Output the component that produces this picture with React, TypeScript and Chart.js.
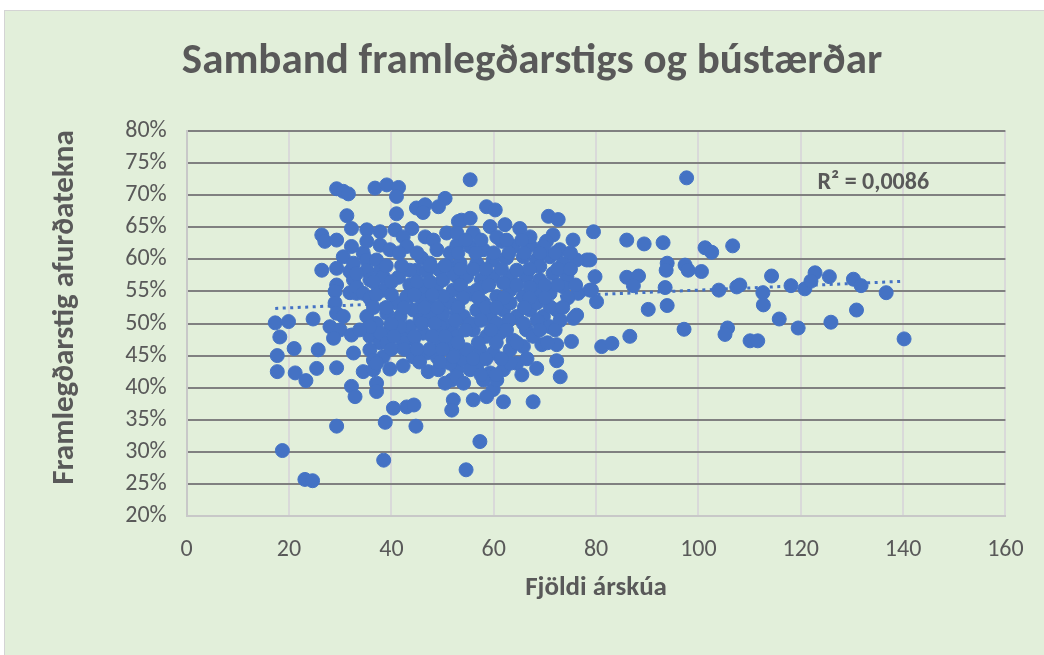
import React, { useEffect, useRef } from "react";
import { Chart, registerables } from "chart.js";

Chart.register(...registerables);

// Fjöldi árskúa (x) og framlegðarstig afurðatekna í % (y)
const cowCounts: number[] = [
  17.3, 18.2, 17.7, 17.7, 19.9, 21.0, 21.2, 23.3, 18.7, 23.1, 24.6, 24.7, 25.7, 25.4, 29.3, 29.3,
  26.4, 27.0, 29.3, 26.4, 29.3, 30.6, 31.6, 31.3, 32.2, 32.2, 30.6, 29.3, 29.3, 29.0, 31.9, 33.2,
  29.0, 29.3, 30.6, 28.0, 30.0, 28.7, 32.2, 32.6, 34.5, 32.2, 32.9, 31.9, 32.6, 34.5, 35.2, 35.2,
  35.2, 35.2, 32.6, 33.2, 35.8, 33.2, 34.5, 35.8, 36.8, 39.1, 41.4, 41.0, 41.0, 44.9, 46.6, 46.2,
  50.5, 49.2, 53.1, 37.8, 40.7, 44.0, 42.3, 46.6, 48.2, 50.8, 37.8, 39.7, 37.1, 45.9, 47.5, 37.8,
  41.4, 44.9, 46.9, 49.5, 51.5, 38.4, 38.4, 43.6, 46.2, 48.9, 52.1, 35.2, 37.1, 39.1, 41.0, 43.0,
  44.3, 46.9, 48.9, 51.5, 35.8, 37.8, 35.8, 38.4, 36.5, 42.3, 44.3, 46.2, 42.3, 39.7, 49.5, 47.2,
  49.2, 51.8, 51.8, 52.1, 51.8, 43.6, 51.8, 50.1, 52.8, 52.8, 52.8, 50.5, 36.5, 37.1, 37.1, 39.7,
  42.3, 40.4, 43.0, 44.4, 38.8, 44.8, 38.5, 41.7, 45.6, 47.5, 49.5, 41.7, 37.8, 35.8, 33.8, 39.1,
  37.1, 44.3, 46.9, 48.9, 51.5, 52.8, 43.0, 48.9, 51.5, 43.6, 50.1, 52.8, 50.1, 45.9, 50.1, 51.5,
  55.4, 58.6, 60.3, 53.7, 55.4, 59.3, 62.2, 65.1, 70.7, 72.6, 79.5, 86.0, 89.4, 71.6, 75.5, 70.3,
  67.1, 61.6, 63.8, 58.0, 55.4, 52.8, 72.9, 78.2, 76.2, 73.6, 71.0, 68.4, 65.8, 62.5, 59.9, 56.7,
  53.4, 79.8, 86.0, 88.3, 87.3, 74.3, 71.6, 69.0, 66.4, 63.2, 59.9, 57.6, 54.7, 52.1, 76.5, 78.8,
  80.1, 73.6, 71.0, 68.4, 65.8, 63.2, 60.6, 58.0, 55.4, 75.6, 76.2, 72.3, 69.7, 67.1, 64.5, 61.9,
  59.3, 56.7, 54.1, 86.6, 81.1, 83.1, 75.2, 72.3, 69.4, 66.4, 63.8, 61.2, 58.6, 56.0, 72.3, 73.0,
  68.4, 64.5, 61.9, 59.3, 56.7, 54.1, 52.8, 59.9, 58.6, 61.9, 56.0, 67.7, 57.3, 54.6, 58.0, 63.2,
  68.4, 71.0, 55.4, 60.6, 65.8, 71.0, 67.7, 57.3, 59.9, 63.2, 65.8, 54.7, 52.1, 55.4, 54.1, 58.0,
  60.6, 63.2, 52.8, 56.0, 60.6, 67.1, 69.7, 64.5, 69.0, 67.1, 61.9, 56.7, 97.7, 93.1, 101.3, 102.6,
  106.7, 93.9, 93.7, 97.4, 98.0, 100.6, 78.8, 93.5, 79.1, 90.2, 93.9, 104.0, 107.5, 108.1, 112.6, 112.7,
  114.3, 115.8, 118.1, 120.8, 97.2, 105.7, 105.2, 119.5, 110.1, 111.6, 122.8, 125.6, 130.3, 131.8, 136.7, 130.9,
  125.9, 140.2, 122.0,
  // þéttur kjarni
  54.5, 57.5, 62.5, 65.5, 53.0, 56.5, 60.0, 63.0, 66.0, 69.0, 72.0, 75.0,
  53.5, 56.0, 58.5, 61.5, 67.0, 72.5, 75.0, 53.5, 59.0, 64.5, 70.0, 72.5, 76.0,
  54.0, 57.0, 62.0, 67.0, 70.0, 74.5, 53.0, 58.5, 60.5, 66.0, 73.5,
  52.5, 57.5, 63.0, 68.5, 73.0, 54.5, 59.5, 62.5, 69.0, 72.0,
  53.0, 57.0, 60.5, 64.5, 70.5, 56.0, 58.5, 61.5, 66.5, 57.5, 60.5, 65.5,
  41.5, 45.0, 39.0, 42.0, 47.5, 50.5, 36.5, 40.0, 45.0, 47.5,
  37.0, 40.0, 44.5, 48.0, 36.5, 39.0, 42.5, 46.5, 49.0, 40.0, 46.0, 48.5,
  40.5, 44.5, 48.0, 50.5, 40.0, 42.5, 45.0, 47.5, 50.0, 45.5, 49.5,
];

const marginPct: number[] = [
  50.1, 47.9, 45.0, 42.5, 50.3, 46.1, 42.3, 41.1, 30.2, 25.7, 25.5, 50.7, 45.9, 43.0, 43.1, 34.0,
  63.8, 62.8, 63.0, 58.3, 71.0, 70.6, 70.2, 66.8, 64.8, 62.0, 60.4, 58.6, 56.0, 55.0, 54.8, 54.7,
  53.2, 51.6, 51.1, 49.5, 49.0, 47.7, 48.2, 45.4, 42.5, 40.2, 38.6, 58.1, 59.4, 61.0, 64.6, 62.8,
  59.9, 58.3, 56.8, 57.8, 56.8, 55.7, 54.7, 53.9, 71.1, 71.6, 71.2, 69.8, 67.1, 68.0, 68.5, 67.3,
  69.5, 68.2, 65.9, 64.3, 64.6, 64.8, 63.5, 63.5, 63.0, 64.1, 62.2, 61.5, 59.9, 60.2, 59.4, 58.1,
  57.2, 58.3, 58.1, 58.3, 58.9, 57.3, 55.2, 56.0, 55.5, 56.0, 55.2, 51.1, 50.0, 51.6, 53.2, 54.2,
  52.1, 53.2, 52.1, 53.2, 48.0, 47.0, 45.9, 44.8, 44.3, 48.5, 47.5, 48.5, 47.0, 49.0, 46.4, 42.5,
  42.8, 45.6, 41.2, 38.1, 36.5, 49.5, 49.5, 50.0, 51.6, 48.0, 42.8, 40.7, 42.8, 40.7, 39.4, 42.9,
  43.4, 36.8, 37.0, 37.3, 34.6, 34.0, 28.7, 51.1, 50.6, 51.1, 49.5, 49.5, 48.5, 49.5, 49.0, 47.0,
  43.8, 44.8, 45.4, 44.8, 47.0, 45.9, 62.0, 61.5, 61.0, 58.3, 56.8, 57.3, 54.2, 53.7, 51.6, 43.8,
  72.4, 68.2, 67.7, 66.1, 66.4, 65.1, 65.4, 64.8, 66.7, 66.2, 64.3, 63.0, 62.4, 63.8, 63.0, 62.8,
  62.2, 62.8, 62.0, 61.5, 62.0, 62.2, 61.5, 59.9, 59.9, 59.4, 60.4, 59.9, 60.4, 60.2, 59.9, 59.4,
  59.4, 57.3, 57.2, 57.4, 55.9, 57.3, 57.8, 56.8, 57.3, 57.3, 57.3, 56.8, 57.3, 57.8, 54.7, 55.2,
  53.4, 55.7, 54.7, 55.2, 54.2, 55.2, 54.2, 55.7, 54.7, 50.8, 51.3, 52.1, 51.1, 52.1, 51.1, 52.1,
  51.1, 52.1, 51.1, 48.0, 46.4, 46.9, 47.2, 46.7, 46.7, 49.0, 47.4, 48.5, 48.0, 49.0, 44.2, 41.7,
  43.0, 43.8, 42.8, 42.3, 43.3, 44.3, 41.7, 39.7, 38.6, 37.8, 38.1, 37.8, 31.6, 27.2, 53.2, 53.2,
  53.2, 52.6, 50.0, 50.0, 50.0, 49.5, 48.0, 45.9, 45.4, 45.9, 46.4, 45.9, 44.8, 42.8, 40.7, 41.2,
  41.2, 43.8, 64.1, 64.1, 63.5, 63.5, 62.0, 58.3, 58.9, 55.7, 56.3, 55.2, 72.7, 62.6, 61.8, 61.1,
  62.1, 59.4, 58.3, 59.1, 58.3, 58.1, 59.9, 55.6, 55.2, 52.2, 52.8, 55.2, 55.7, 56.0, 54.8, 52.9,
  57.4, 50.7, 55.9, 55.4, 49.1, 49.3, 48.3, 49.3, 47.3, 47.3, 57.9, 57.3, 56.9, 55.9, 54.8, 52.1,
  50.2, 47.6, 56.6,
  // þéttur kjarni
  63.0, 63.0, 63.0, 63.0, 61.0, 61.0, 61.0, 61.0, 61.0, 61.0, 61.0, 61.0,
  58.5, 58.5, 58.5, 58.5, 58.5, 58.5, 58.5, 56.0, 56.0, 56.0, 56.0, 56.0, 56.0,
  54.0, 54.0, 54.0, 54.0, 54.0, 54.0, 52.5, 52.5, 52.5, 52.5, 52.5,
  50.5, 50.5, 50.5, 50.5, 50.5, 49.0, 49.0, 49.0, 49.0, 49.0,
  47.0, 47.0, 47.0, 47.0, 47.0, 44.5, 44.5, 44.5, 44.5, 42.0, 42.0, 42.0,
  61.0, 61.0, 59.0, 59.0, 59.0, 59.0, 56.5, 56.5, 56.5, 56.5,
  54.5, 54.5, 54.5, 54.5, 52.5, 52.5, 52.5, 52.5, 52.5, 50.0, 50.0, 50.0,
  48.0, 48.0, 48.0, 48.0, 46.0, 46.0, 46.0, 46.0, 46.0, 44.0, 44.0,
];

const yTickLabels: string[] = ["20%", "25%", "30%", "35%", "40%", "45%", "50%", "55%", "60%", "65%", "70%", "75%", "80%"];
const yTickValues: number[] = [20, 25, 30, 35, 40, 45, 50, 55, 60, 65, 70, 75, 80];

// Línuleg leitnilína (lesin af mynd)
const trendSlope = 0.0345;
const trendIntercept = 51.75;
const rSquaredText = "R² = 0,0086";
const yAxisTitle = "Framlegðarstig afurðatekna";

const FONT = "Carlito, 'Liberation Sans Narrow', 'Liberation Sans', sans-serif";
const BLUE = "#4472C4";
const TEXT = "#595959";

export default function App() {
  const ref = useRef<HTMLCanvasElement | null>(null);

  useEffect(() => {
    if (!ref.current) return;
    const points = cowCounts.map((x, i) => ({ x, y: marginPct[i] }));
    const xMin = Math.min(...cowCounts);
    const xMax = Math.max(...cowCounts);
    const trend = [
      { x: xMin, y: trendIntercept + trendSlope * xMin },
      { x: xMax, y: trendIntercept + trendSlope * xMax },
    ];

    const textPlugin = {
      id: "extraText",
      afterDraw(chart: any) {
        const { ctx, scales } = chart;
        ctx.save();
        ctx.font = `bold 24px ${FONT}`;
        ctx.fillStyle = TEXT;
        ctx.textBaseline = "middle";
        ctx.textAlign = "left";
        ctx.fillText(rSquaredText, scales.x.getPixelForValue(123.3), scales.y.getPixelForValue(71.9));
        ctx.restore();

        ctx.save();
        ctx.translate(65, scales.y.getPixelForValue(52.5));
        ctx.rotate(-Math.PI / 2);
        ctx.font = `bold 31px ${FONT}`;
        ctx.fillStyle = TEXT;
        ctx.textAlign = "center";
        ctx.textBaseline = "middle";
        ctx.fillText(yAxisTitle, 0, 0);
        ctx.restore();
      },
    };

    const chart = new Chart(ref.current, {
      type: "scatter",
      data: {
        datasets: [
          {
            label: "Bú",
            data: points,
            backgroundColor: BLUE,
            borderColor: BLUE,
            borderWidth: 1,
            pointRadius: 7,
            pointHoverRadius: 7,
          },
          {
            label: "Leitni",
            data: trend,
            showLine: true,
            borderColor: BLUE,
            borderWidth: 3,
            borderDash: [3, 4.5],
            pointRadius: 0,
            fill: false,
          } as any,
        ],
      },
      options: {
        responsive: false,
        animation: false,
        layout: { padding: { left: 58.6, right: 38.6, top: 0, bottom: 0 } },
        plugins: {
          legend: { display: false },
          tooltip: { enabled: false },
          title: {
            display: true,
            text: "Samband framlegðarstigs og bústærðar",
            color: TEXT,
            font: { family: FONT, size: 43, weight: "bold" },
            padding: { top: 36.2, bottom: 43.2 },
          },
        },
        scales: {
          x: {
            type: "linear",
            min: 0,
            max: 160,
            ticks: { stepSize: 20, color: TEXT, font: { family: FONT, size: 24 }, padding: 20 },
            grid: { color: "#d9d9d9", lineWidth: 2, drawTicks: false },
            border: { color: "#c8c8c8", width: 2 },
            title: {
              display: true,
              text: "Fjöldi árskúa",
              color: TEXT,
              font: { family: FONT, size: 27, weight: "bold" },
              padding: { top: 50.8, bottom: 50.8 },
            },
            afterFit: (s: any) => {
              s.height = 139;
            },
          },
          y: {
            type: "linear",
            min: 20,
            max: 80,
            afterBuildTicks: (s: any) => {
              s.ticks = yTickValues.map((v) => ({ value: v }));
            },
            ticks: {
              color: TEXT,
              font: { family: FONT, size: 24 },
              padding: 20,
              callback: (v: any) => yTickLabels[yTickValues.indexOf(Number(v))] ?? "",
            },
            grid: {
              color: (c: any) => (c.tick && c.tick.value === 20 ? "rgba(0,0,0,0)" : "#808080"),
              lineWidth: 2,
              drawTicks: false,
            },
            border: { color: "#c8c8c8", width: 2 },
            title: { display: false, text: yAxisTitle },
            afterFit: (s: any) => {
              s.width = 186.7 - 58.6;
            },
          },
        },
      },
      plugins: [textPlugin],
    });
    return () => chart.destroy();
  }, []);

  return (
    <div style={{ position: "fixed", left: 0, top: 0, width: 1044, height: 655, background: "#ffffff", overflow: "hidden" }}>
      <div
        style={{
          position: "absolute",
          left: 4,
          top: 10,
          width: 1060,
          height: 670,
          background: "#E2EFDA",
          border: "1px solid #d4d4d4",
          boxSizing: "border-box",
        }}
      />
      <canvas ref={ref} width={1044} height={655} style={{ position: "absolute", left: 0, top: 0, width: 1044, height: 655 }} />
    </div>
  );
}
